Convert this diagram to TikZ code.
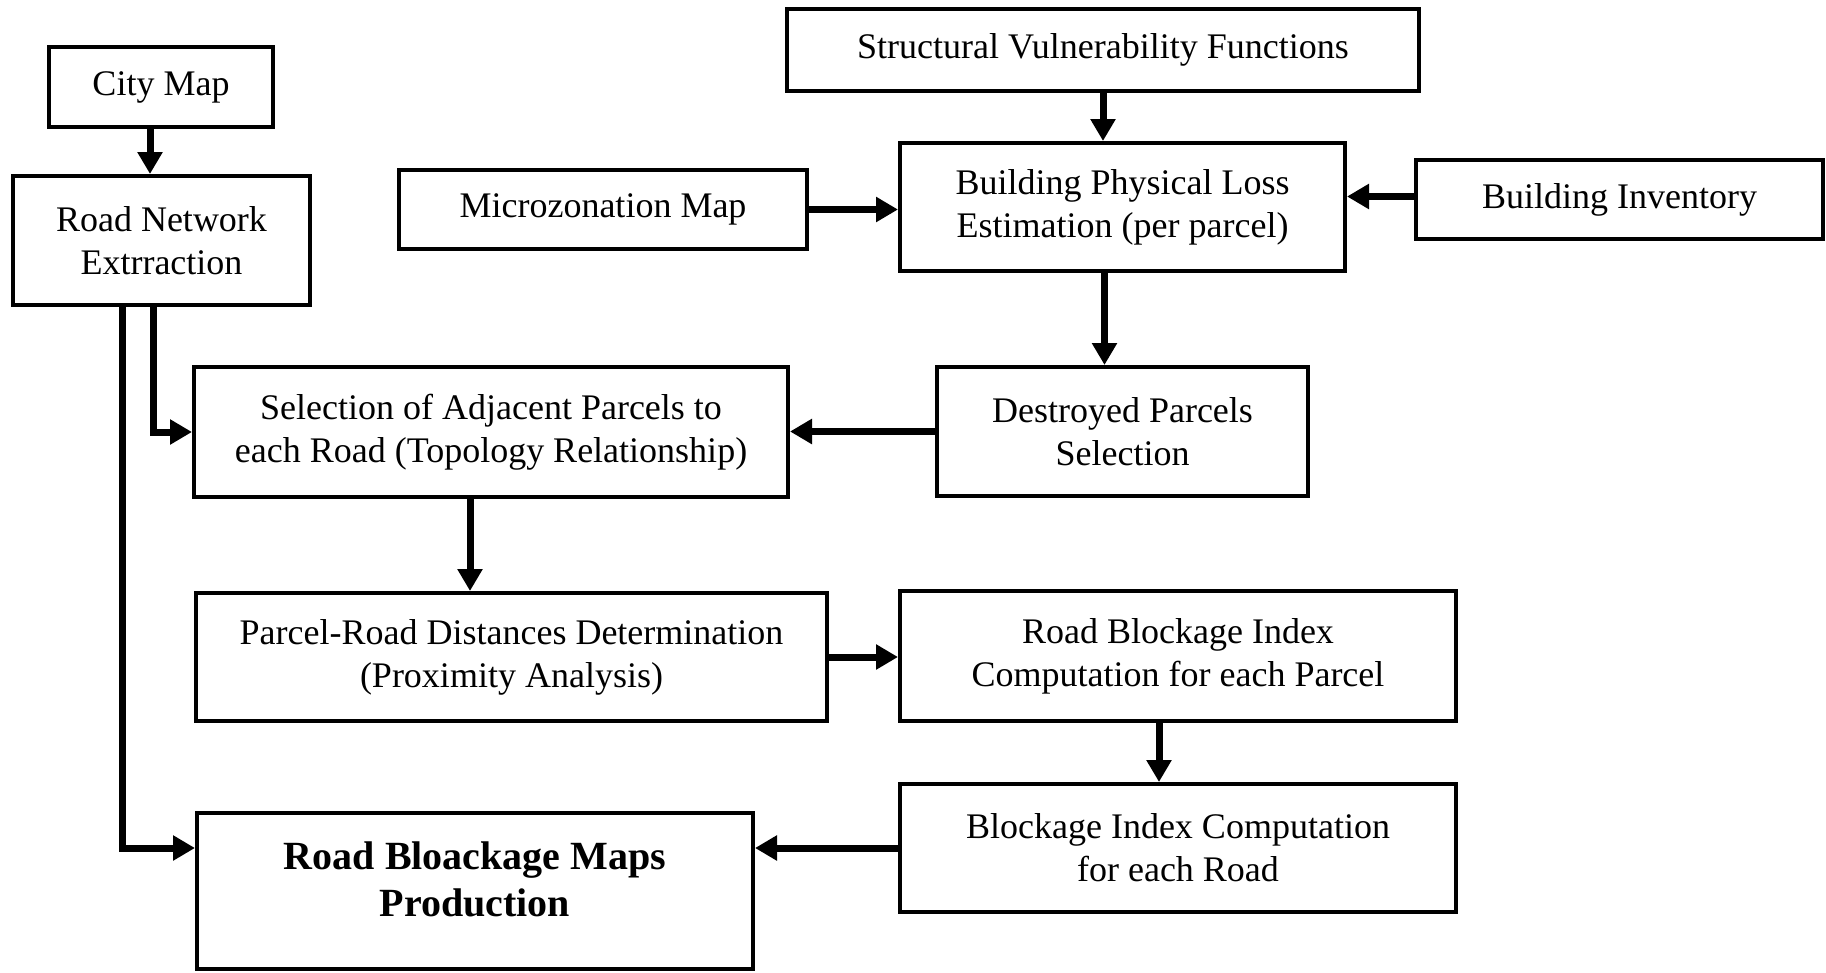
\documentclass[tikz,border=0pt]{standalone}
\usepackage{fontspec}
\setmainfont{Liberation Serif}
\usetikzlibrary{arrows.meta,calc}
\begin{document}
\begin{tikzpicture}[x=1pt,y=-1pt,
  box/.style={draw=black, line width=4pt, fill=white, inner sep=0pt, align=center,
    font=\fontsize{36}{43}\selectfont},
  arr/.style={line width=7pt, -{Triangle[length=22pt,width=24pt]}},
  ln/.style={line width=7pt}]
\useasboundingbox[fill=white] (0,0) rectangle (1826,972);
\node[box, minimum width=224pt, minimum height=80pt] (city) at (161,87) {City Map};
\node[box, minimum width=297pt, minimum height=129pt] (road) at (161.5,240.5) {Road Network\\Extrraction};
\node[box, minimum width=632pt, minimum height=82pt] (struct) at (1103,50) {Structural Vulnerability Functions};
\node[box, minimum width=408pt, minimum height=79pt] (micro) at (603,209.5) {Microzonation Map};
\node[box, minimum width=445pt, minimum height=128pt] (bpl) at (1122.5,207) {Building Physical Loss\\Estimation (per parcel)};
\node[box, minimum width=407pt, minimum height=79pt] (binv) at (1619.5,199.5) {Building Inventory};
\node[box, minimum width=594pt, minimum height=130pt] (sel) at (491,432) {Selection of Adjacent Parcels to\\each Road (Topology Relationship)};
\node[box, minimum width=371pt, minimum height=129pt] (dest) at (1122.5,431.5) {Destroyed Parcels\\Selection};
\node[box, minimum width=631pt, minimum height=128pt] (prd) at (511.5,657) {Parcel-Road Distances Determination\\(Proximity Analysis)};
\node[box, minimum width=556pt, minimum height=130pt] (rbi) at (1178,656) {Road Blockage Index\\Computation for each Parcel};
\node[box, minimum width=556pt, minimum height=128pt] (bir) at (1178,848) {Blockage Index Computation\\for each Road};
\node[box, minimum width=556pt, minimum height=156pt] (maps) at (475,891) {};
\node[align=center, inner sep=0pt, font=\bfseries\fontsize{40}{47}\selectfont] (mapstext) at ([yshift=12pt]maps.center) {Road Bloackage Maps\\Production};

\draw[arr] ([xshift=-11pt]city.south) -- ([xshift=-11pt]city.south |- road.north);
\draw[arr] (struct.south) -- (struct.south |- bpl.north);
\draw[arr] (micro.east) -- (micro.east -| bpl.west);
\draw[arr] ([yshift=3pt]binv.west) -- ([yshift=3pt]binv.west -| bpl.east);
\draw[arr] ([xshift=-18pt]bpl.south) -- ([xshift=-18pt]bpl.south |- dest.north);
\draw[arr] (dest.west) -- (dest.west -| sel.east);
\draw[arr] ([xshift=-21pt]sel.south) -- ([xshift=-21pt]sel.south |- prd.north);
\draw[arr] (prd.east) -- (prd.east -| rbi.west);
\draw[arr] ([xshift=-19pt]rbi.south) -- ([xshift=-19pt]rbi.south |- bir.north);
\draw[arr] (bir.west) -- (bir.west -| maps.east);
\draw[arr] ([xshift=-8pt]road.south) |- (sel.west);
\draw[arr] ([xshift=-39.5pt]road.south) |- ([yshift=43pt]maps.west);
\end{tikzpicture}
\end{document}
